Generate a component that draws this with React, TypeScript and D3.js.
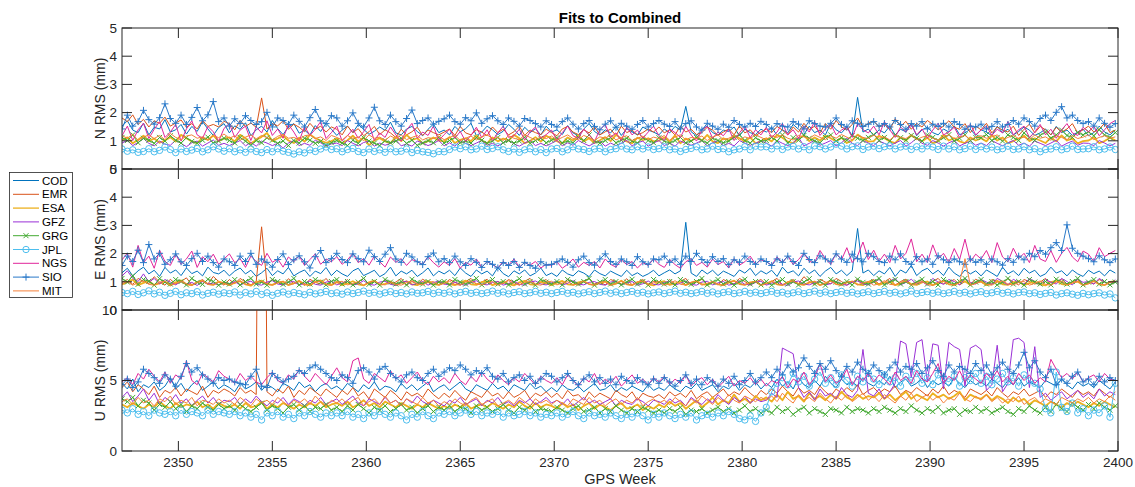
import * as d3 from 'd3';

// analysis centres, in plot order
const centres = ['COD', 'EMR', 'ESA', 'GFZ', 'GRG', 'JPL', 'NGS', 'SIO', 'MIT'];
const colors = ['#0072BD', '#D95319', '#EDB120', '#9A30D6', '#44AA33', '#4DBEEE', '#E0259A', '#2878C8', '#F5813A'];
const markers = ['', '', '', '', 'x', 'o', '', '+', ''];
const lineWidths = [1, 1, 1.8, 1, 1, 1, 1, 1, 1];

// samples every 2 days from GPS week 2347
const firstWeek = 2347;
const stepWeeks = 2 / 7;
const weekTicks = [2350, 2355, 2360, 2365, 2370, 2375, 2380, 2385, 2390, 2395, 2400];

// North RMS, 1/100 mm
const nCOD = [152,171,138,129,163,121,148,142,175,131,139,158,124,151,133,168,142,119,147,161,
  128,153,141,164,118,139,152,131,172,143,122,149,161,127,138,121,154,133,162,141,
  119,138,152,129,158,141,123,134,149,137,166,128,121,142,151,133,118,141,159,129,
  138,121,151,132,143,162,118,131,152,139,122,134,158,141,119,148,129,143,121,152,
  131,139,122,154,128,118,142,161,133,121,139,128,151,119,143,132,121,149,138,131,
  121,142,128,151,139,222,132,118,141,152,129,121,138,133,149,118,142,129,122,141,
  131,148,119,139,128,158,141,122,152,129,138,121,162,139,128,149,118,254,131,142,
  119,139,128,152,121,141,132,161,118,139,148,129,121,142,131,153,122,128,141,119,
  139,131,118,152,129,141,121,133,149,138,119,128,142,121,151,129,138,119,131,141,
  118,129,152,131,121,138];
const nEMR = [181,168,192,158,176,149,171,162,184,152,163,174,148,161,142,172,151,158,149,169,
  161,139,172,151,163,148,252,142,161,153,171,141,159,148,132,162,141,152,131,149,
  141,121,152,129,143,118,132,151,122,139,128,112,141,121,132,148,119,138,129,121,
  131,142,119,151,128,121,139,131,118,149,129,141,121,132,152,119,138,129,122,141,
  129,118,142,151,131,122,139,128,149,121,132,141,118,152,129,138,121,129,142,131,
  149,128,139,121,152,131,141,122,129,148,138,119,131,142,121,153,128,139,118,131,
  142,129,151,138,121,149,131,162,139,152,128,161,141,172,149,138,158,181,149,162,
  171,148,159,139,178,151,169,141,162,149,172,158,139,152,171,148,141,161,129,152,
  139,162,128,149,138,131,152,119,141,159,128,151,139,121,148,131,142,161,128,139,
  152,131,141,162,129,138];
const nESA = [102,112,91,104,118,99,108,93,101,113,97,121,109,98,92,111,103,119,99,108,
  112,98,121,109,91,103,114,128,99,108,118,101,92,111,97,122,109,101,93,99,
  108,91,102,118,97,112,84,101,109,98,92,113,99,121,103,109,91,99,112,101,
  98,113,92,103,109,99,119,101,91,112,98,108,101,121,109,92,99,113,97,118,
  108,99,91,112,101,119,98,109,92,102,113,99,121,108,98,91,111,102,109,98,
  101,112,97,119,91,108,99,112,101,121,98,92,109,101,118,109,98,112,91,99,
  109,98,121,111,97,92,108,119,99,112,101,118,109,98,111,92,101,122,108,97,
  99,118,109,98,92,112,101,119,108,98,111,91,99,121,101,109,98,92,112,101,
  109,98,121,101,112,91,99,108,118,99,109,101,92,112,98,119,101,108,91,99,
  101,112,92,99,111,102];
const nGFZ = [92,101,83,94,108,91,82,99,88,84,102,91,79,93,99,81,92,103,84,91,
  83,92,101,82,94,81,99,92,83,91,74,92,101,83,91,84,102,93,81,89,
  92,83,101,91,82,94,99,81,92,84,91,103,82,89,81,99,92,83,91,101,
  82,93,81,99,91,83,92,101,84,91,82,93,102,89,81,92,101,83,91,82,
  91,102,82,93,84,101,91,82,92,99,81,92,83,91,102,82,93,99,81,92,
  101,83,92,81,99,91,84,92,101,82,93,101,83,91,82,101,92,84,91,99,
  92,81,101,91,83,92,112,82,91,102,84,92,101,82,93,109,91,83,101,92,
  83,99,91,82,92,101,81,93,109,91,84,101,92,81,93,101,82,91,99,84,
  92,83,101,91,82,93,101,84,92,81,99,91,83,92,102,81,91,99,84,92,
  91,83,101,92,82,91];
const nGRG = [112,101,121,93,109,102,91,112,99,118,102,92,111,98,91,102,113,92,99,109,
  101,92,112,99,84,101,93,111,102,91,99,83,101,92,109,102,91,98,84,93,
  101,92,83,102,91,111,99,92,83,101,93,99,109,91,102,84,92,101,93,112,
  92,101,112,93,99,92,111,102,91,99,112,93,101,92,99,112,91,101,109,93,
  102,111,92,99,93,112,101,121,99,92,101,111,93,102,109,99,92,111,101,93,
  111,99,92,101,112,93,99,112,101,92,109,101,93,99,112,121,101,92,111,99,
  101,112,99,121,92,111,102,119,109,99,93,112,121,99,111,102,119,109,101,112,
  122,101,112,99,121,111,102,119,109,99,121,112,101,111,122,99,109,121,101,112,
  111,122,101,112,99,121,112,101,128,111,102,119,131,109,121,138,119,112,129,121,
  132,118,139,121,112,129];
const nJPL = [71,63,68,59,62,72,61,66,78,69,58,71,62,67,73,61,68,79,71,63,
  72,61,68,59,71,62,58,69,61,72,63,59,53,61,57,68,62,71,78,69,
  72,61,69,73,62,58,71,62,68,59,72,61,63,71,58,66,61,59,54,62,
  61,69,78,72,79,68,71,81,69,73,79,68,62,71,59,68,72,61,69,58,
  71,73,61,68,79,71,69,62,71,73,61,69,72,81,71,68,79,71,78,69,
  72,79,68,71,62,69,73,79,68,71,81,69,72,61,68,71,79,68,81,78,
  79,71,82,69,78,81,71,79,68,82,79,71,78,88,81,71,79,82,69,78,
  81,72,79,82,71,78,81,69,79,71,82,78,69,81,71,79,68,72,81,69,
  79,71,78,68,72,81,69,71,79,68,72,61,69,71,79,68,72,81,69,71,
  72,79,68,71,78,69];
const nNGS = [118,152,101,139,162,108,141,168,112,131,158,99,142,171,121,109,151,132,98,144,
  161,112,138,152,101,149,128,171,119,142,109,158,131,99,151,119,141,168,108,129,
  152,99,118,141,109,132,158,101,128,112,149,121,99,138,162,109,131,119,152,101,
  122,141,109,133,98,119,148,111,139,101,128,152,112,118,141,102,131,149,109,122,
  138,101,129,152,118,109,142,121,98,139,158,112,128,101,149,121,138,109,131,152,
  118,101,142,129,112,151,121,99,138,152,109,131,118,142,101,128,152,111,139,121,
  148,112,131,162,121,139,109,152,131,168,119,142,159,121,138,149,112,161,139,128,
  152,121,168,139,112,149,131,158,121,142,109,138,162,121,131,148,112,139,159,121,
  138,152,119,141,128,168,121,139,152,112,131,158,121,141,109,139,161,128,119,148,
  131,152,118,139,161,172];
const nSIO = [142,191,152,168,208,175,159,182,231,179,162,191,158,183,218,171,192,239,168,181,
  152,178,161,189,172,158,168,201,149,181,172,158,191,169,149,182,211,171,161,189,
  181,152,171,199,162,149,181,219,171,158,191,168,152,179,209,161,172,181,159,169,
  178,191,168,159,182,171,199,162,178,189,171,158,181,169,152,179,172,161,149,171,
  158,149,168,181,159,142,161,172,151,139,159,171,148,162,152,141,158,172,149,161,
  172,159,151,168,142,161,171,149,138,162,152,141,159,148,172,158,149,162,151,169,
  158,142,161,152,149,168,159,142,171,161,152,149,162,181,158,149,171,162,151,159,
  168,152,161,149,172,158,141,161,152,168,142,159,151,162,149,168,158,141,152,149,
  159,142,151,168,149,158,172,159,181,168,152,179,191,172,201,221,181,191,172,161,
  168,152,181,162,148,161];
const nMIT = [118,109,124,101,113,121,108,119,104,126,112,103,117,121,109,114,102,119,111,124,
  109,118,102,113,121,107,119,111,102,116,123,109,112,104,118,121,108,114,101,119,
  112,103,119,108,114,101,121,109,113,102,117,108,121,104,112,119,103,111,108,116,
  104,112,119,101,109,117,103,114,121,108,112,101,118,109,104,121,112,103,114,108,
  117,103,112,121,108,104,119,111,102,114,109,121,103,112,118,101,109,116,104,113,
  108,119,102,114,121,103,112,108,117,101,113,121,104,109,118,102,114,108,121,112,
  104,118,112,121,109,103,119,114,108,121,112,104,118,109,122,113,104,119,112,108,
  121,109,114,103,119,112,108,121,104,113,118,109,102,114,121,108,112,119,104,113,
  118,109,114,121,103,112,119,108,113,104,121,109,114,102,118,112,104,119,108,113,
  121,104,112,118,109,114];

// East RMS, 1/100 mm
const eCOD = [132,148,121,139,152,128,141,119,151,131,142,122,149,129,138,121,152,133,128,141,
  121,138,149,128,141,119,132,148,122,139,128,151,121,133,142,119,138,129,151,122,
  141,128,119,139,148,122,131,141,118,129,152,121,138,128,141,119,132,149,121,138,
  128,141,122,149,131,119,142,128,138,121,151,129,118,139,128,142,121,131,149,122,
  131,119,142,128,121,139,131,118,142,129,121,138,128,119,141,122,132,119,128,141,
  121,132,142,128,139,311,131,119,142,128,141,122,138,129,119,142,131,148,122,139,
  128,141,119,152,131,139,121,148,129,142,119,138,151,128,141,122,139,289,131,142,
  122,139,128,151,119,142,131,158,122,139,148,128,141,122,152,131,119,142,128,139,
  121,142,131,119,152,128,139,122,148,131,141,119,128,152,131,139,121,142,128,119,
  141,129,138,121,142,131];
const eEMR = [98,108,91,112,101,93,118,99,88,109,92,101,114,89,98,108,92,119,101,88,
  108,93,112,99,89,101,295,92,108,99,88,111,93,101,87,109,98,92,112,89,
  101,92,108,88,99,112,91,101,89,108,93,99,112,88,101,92,109,98,89,101,
  92,108,99,88,101,112,92,99,109,89,101,93,108,99,88,102,112,91,99,108,
  89,101,92,109,98,88,101,112,92,99,89,108,101,92,111,89,99,108,92,101,
  99,89,108,92,101,112,88,99,109,92,101,89,108,99,92,112,101,89,99,108,
  92,101,112,89,99,108,92,118,101,89,109,99,92,112,101,88,99,109,92,101,
  108,92,99,112,88,101,109,92,99,108,89,101,112,92,99,108,89,101,92,109,
  99,88,108,101,92,112,99,89,108,101,92,99,112,88,101,109,92,99,108,89,
  101,92,108,99,89,101];
const eESA = [91,99,108,88,96,102,89,94,101,87,98,105,91,88,99,103,92,89,101,95,
  88,97,102,91,86,99,104,92,89,98,101,88,95,103,91,87,99,105,92,89,
  99,88,94,102,91,87,98,104,89,93,101,88,96,102,91,88,97,103,92,89,
  101,92,88,97,104,91,89,99,102,88,94,101,92,87,98,103,91,89,99,95,
  88,97,103,91,89,98,102,92,88,96,101,89,93,104,91,88,99,102,91,87,
  98,102,89,94,101,88,97,103,92,89,99,91,88,97,104,92,89,98,101,88,
  94,102,91,88,99,103,92,89,97,101,88,95,104,92,89,98,101,91,88,99,
  102,89,96,101,88,93,103,91,89,98,101,88,95,103,91,88,99,102,89,96,
  101,88,93,104,91,89,98,102,88,95,101,91,87,99,103,92,89,97,101,88,
  94,102,91,88,99,103];
const eGFZ = [121,139,112,101,128,99,112,92,108,99,89,102,91,98,87,101,92,96,88,99,
  92,101,88,97,102,91,88,99,104,92,89,98,101,88,95,103,91,88,99,102,
  89,96,101,88,93,104,91,88,99,102,91,87,98,102,89,94,101,88,97,103,
  92,89,99,91,88,97,104,92,89,98,101,88,94,102,91,88,99,103,92,89,
  97,101,88,95,104,92,89,98,101,91,88,99,102,89,96,101,88,93,103,91,
  89,98,101,88,95,103,91,88,99,102,89,96,101,88,93,104,91,89,98,102,
  88,95,101,91,87,99,103,92,89,97,101,88,94,102,91,88,99,103,92,89,
  99,108,91,102,112,89,98,109,92,101,88,112,99,91,108,101,89,112,98,92,
  108,99,91,112,101,89,109,98,92,111,101,89,108,99,92,112,101,89,109,98,
  101,92,112,99,89,108];
const eGRG = [112,99,121,91,108,102,88,111,99,92,108,101,89,112,98,91,109,101,88,99,
  92,108,89,101,112,92,99,88,108,101,91,99,112,89,101,92,108,99,89,101,
  108,92,101,89,99,112,91,101,88,108,99,92,101,89,109,98,92,101,88,99,
  101,89,108,99,92,101,112,89,99,108,92,101,89,99,111,92,101,88,108,99,
  92,101,89,108,99,92,101,112,88,99,108,92,101,89,99,109,92,101,88,108,
  99,92,101,89,108,99,91,101,112,89,99,108,92,101,88,99,109,92,101,89,
  101,88,99,108,92,101,89,99,111,92,101,88,108,99,92,101,89,109,98,92,
  101,112,89,99,108,92,101,88,99,109,92,101,89,108,99,92,101,112,89,99,
  108,92,101,89,99,112,92,101,88,108,99,92,101,89,109,99,92,101,112,89,
  99,108,92,101,89,99];
const eJPL = [62,58,66,55,61,68,57,63,52,59,66,54,61,58,65,53,59,63,56,61,
  58,64,53,62,57,66,55,61,52,59,64,56,62,58,54,63,57,61,66,58,
  61,56,64,58,62,67,59,63,56,61,65,58,62,57,64,59,61,66,58,63,
  59,64,57,62,66,59,63,58,61,67,59,64,57,62,65,58,61,66,59,63,
  58,62,66,59,63,57,61,65,58,62,67,59,64,58,62,66,59,63,57,61,
  64,58,62,67,59,63,58,61,66,59,64,57,62,65,58,61,66,59,63,58,
  62,66,59,63,57,61,65,58,62,67,59,64,58,62,66,59,63,57,61,65,
  58,62,66,59,63,57,61,67,58,62,65,59,64,58,61,66,59,63,57,62,
  65,58,61,66,59,63,57,62,64,58,61,55,59,62,53,58,61,56,52,59,
  54,58,61,53,57,43];
const eNGS = [178,201,152,229,168,191,148,212,172,158,198,162,181,209,151,189,171,198,162,181,
  199,168,182,151,191,172,158,201,169,181,152,188,171,192,158,179,199,162,181,171,
  189,162,178,201,168,182,159,191,171,152,188,169,182,158,179,171,162,189,168,152,
  171,158,182,148,169,159,181,152,171,161,149,172,158,181,152,168,159,172,149,162,
  158,171,148,162,181,152,169,158,172,149,181,162,152,178,161,172,149,168,158,181,
  162,151,179,161,148,171,182,158,169,152,181,161,172,149,182,159,171,191,162,178,
  171,159,188,168,192,161,179,201,172,168,211,182,162,201,178,221,168,192,241,179,
  212,172,198,168,229,181,201,252,171,198,168,231,182,201,169,218,179,251,172,198,
  181,211,168,239,188,171,219,182,201,168,229,181,172,211,169,201,222,188,171,209,
  198,172,221,189,201,211];
const eSIO = [158,191,172,212,168,232,181,201,162,178,199,171,158,182,201,172,191,168,152,181,
  171,158,191,172,201,162,181,169,152,179,199,161,178,192,171,149,189,211,168,182,
  201,179,168,199,182,171,212,189,172,198,221,181,169,201,188,171,161,189,202,171,
  182,168,191,171,158,182,169,151,172,162,149,168,158,172,151,169,158,148,171,159,
  162,171,181,169,152,178,191,168,159,181,199,172,162,181,171,158,189,171,162,181,
  178,191,169,181,162,191,172,201,179,168,189,172,182,161,178,169,191,172,162,181,
  172,158,181,169,191,172,158,201,179,168,192,181,171,199,181,169,198,182,171,201,
  189,172,168,191,178,199,172,162,189,171,181,162,192,178,168,181,171,162,181,169,
  178,162,181,171,159,182,169,191,178,201,189,211,198,221,239,211,302,219,201,191,
  182,171,192,178,168,181];
const eMIT = [92,101,88,97,104,91,88,99,102,88,94,101,92,87,98,103,91,89,99,95,
  88,97,103,91,89,98,102,92,88,96,101,89,93,104,91,88,99,102,91,87,
  98,102,89,94,101,88,97,103,92,89,99,91,88,97,104,92,89,98,101,88,
  94,102,91,88,99,103,92,89,97,101,88,95,104,92,89,98,101,91,88,99,
  102,89,96,101,88,93,103,91,89,98,101,88,95,103,91,88,99,102,89,96,
  101,88,93,104,91,89,98,102,88,95,101,91,87,99,103,92,89,97,101,88,
  94,102,91,88,99,103,92,89,98,101,88,95,103,91,88,99,102,89,96,101,
  88,93,104,91,89,98,102,88,95,101,91,87,99,103,92,89,97,182,88,94,
  102,91,88,99,103,92,89,98,101,88,95,103,91,88,99,102,89,96,101,88,
  93,104,91,89,98,102];

// Up RMS, 1/10 mm
const uCOD = [48,44,51,42,47,45,49,43,46,52,44,48,42,47,50,43,46,49,44,47,
  45,42,48,44,46,49,43,47,45,42,48,46,43,49,45,47,42,46,48,44,
  46,43,48,45,42,47,44,49,43,46,45,42,48,44,47,43,46,49,42,45,
  47,43,46,49,44,42,47,45,43,48,44,46,42,47,45,43,48,44,46,42,
  45,42,47,44,43,46,42,45,48,43,44,47,42,45,43,46,44,42,47,43,
  45,43,47,44,42,46,44,48,43,45,47,42,46,44,48,43,47,45,49,44,
  48,45,51,46,49,44,52,47,45,50,46,53,48,45,51,47,49,46,52,48,
  46,50,47,53,45,49,51,46,48,52,45,50,47,49,46,52,48,45,50,47,
  49,46,51,48,45,50,47,52,46,49,47,45,50,48,46,51,47,44,49,46,
  48,45,50,47,44,49];
const uEMR = [45,49,42,47,44,40,46,38,43,41,45,39,44,42,40,46,38,43,41,44,
  42,39,45,41,43,40,600,42,39,44,41,46,38,43,40,45,42,39,44,41,
  38,43,40,45,39,42,37,44,41,38,43,40,36,42,39,41,38,44,40,37,
  41,38,43,39,36,42,40,38,43,39,41,37,42,38,40,43,37,41,39,42,
  38,41,37,43,39,40,36,42,38,41,39,37,43,40,38,42,36,41,39,38,
  40,37,42,39,41,38,43,37,40,42,38,41,44,39,42,40,45,41,38,43,
  40,44,41,46,42,39,45,41,43,40,46,42,39,44,41,45,42,47,40,43,
  45,41,44,42,46,40,43,41,45,42,39,44,41,46,40,43,41,38,44,42,
  40,43,39,45,41,38,42,40,44,39,41,43,38,42,40,44,41,38,43,40,
  42,39,44,41,38,42];
const uESA = [33,31,34,32,30,33,31,35,32,30,34,31,33,32,35,31,33,30,34,32,
  31,33,30,34,31,32,35,30,33,31,34,32,30,33,31,34,32,35,31,33,
  34,32,35,31,33,36,32,34,31,35,33,31,34,32,30,33,31,34,32,30,
  32,30,33,31,34,30,32,33,31,34,32,30,33,31,35,32,30,34,31,33,
  32,30,34,31,33,29,32,34,30,33,31,29,32,34,30,31,33,29,32,30,
  33,31,35,32,34,30,33,36,31,34,38,33,36,34,40,35,37,34,39,36,
  38,35,40,36,42,37,39,35,41,37,39,36,40,37,42,38,36,40,37,39,
  38,41,37,40,36,39,42,37,40,38,36,41,38,40,37,39,42,36,40,38,
  37,40,36,39,37,34,38,35,37,33,36,34,32,35,33,31,34,32,35,33,
  31,34,32,35,33,31];
const uGFZ = [38,42,35,39,44,36,41,33,38,35,40,34,37,32,36,39,34,38,33,36,
  35,38,33,37,34,39,35,32,36,34,38,33,37,35,32,36,34,38,33,35,
  37,33,36,39,34,32,37,35,33,38,34,36,32,37,34,39,35,33,36,34,
  32,36,34,38,33,35,37,32,36,34,38,33,35,32,36,34,37,33,35,38,
  34,36,33,37,32,35,38,34,36,33,35,37,32,36,34,33,37,35,32,36,
  35,33,37,34,36,32,38,35,33,37,34,40,36,33,38,35,39,34,37,35,
  36,41,38,73,71,69,45,38,42,36,44,39,41,37,45,40,38,43,72,41,
  39,44,37,42,48,78,76,52,77,79,49,76,75,44,77,74,72,46,73,75,
  72,43,47,75,42,48,79,80,77,45,74,38,41,36,39,42,37,40,43,38,
  41,37,44,39,42,40];
const uGRG = [37,35,38,32,36,34,29,33,31,35,30,33,28,32,30,34,31,29,33,30,
  32,29,33,30,28,31,34,29,32,30,27,31,33,29,32,28,31,30,33,29,
  31,28,32,29,33,30,27,31,29,32,28,30,33,29,31,27,30,32,28,31,
  29,32,28,31,30,27,32,29,31,28,30,33,29,27,31,29,32,28,30,29,
  28,31,29,27,30,32,28,29,31,27,30,28,32,29,27,30,28,31,29,27,
  29,27,30,28,31,26,29,28,30,27,29,31,28,30,27,29,32,28,30,27,
  29,27,31,28,30,26,29,31,27,30,28,26,30,29,27,31,28,30,29,27,
  30,28,31,29,27,30,28,32,29,27,30,28,31,27,29,30,26,29,28,31,
  28,30,27,29,31,28,26,30,28,32,29,27,31,28,33,30,28,34,31,29,
  33,30,34,31,29,32];
const uJPL = [29,27,30,26,28,25,29,27,26,28,25,29,26,28,27,25,29,26,28,27,
  26,28,25,27,24,26,22,27,25,28,24,26,23,27,25,28,26,24,27,25,
  27,25,28,24,26,23,27,25,28,26,24,27,25,22,26,24,28,25,23,27,
  26,28,25,27,29,26,28,25,27,26,28,24,27,25,26,28,25,27,24,26,
  25,27,24,26,28,25,23,27,25,26,24,27,25,23,26,24,27,25,22,26,
  24,27,25,23,26,24,27,22,25,26,24,27,25,28,26,23,22,25,21,27,
  31,42,48,52,47,55,49,53,46,51,56,48,52,47,54,50,46,53,49,55,
  51,47,54,49,52,46,53,50,55,48,52,47,54,51,49,53,46,52,50,55,
  48,53,47,51,55,49,52,46,54,50,48,44,30,27,56,31,28,34,27,30,
  25,29,27,32,24,48];
const uNGS = [49,52,47,55,51,58,53,49,56,48,54,51,64,50,47,55,52,49,57,53,
  51,48,55,50,53,49,47,52,56,50,48,54,51,58,53,49,55,51,47,53,
  59,52,49,64,66,51,48,55,52,49,57,51,54,48,52,56,50,47,53,49,
  52,48,55,50,47,53,49,56,51,48,54,50,47,52,49,55,51,47,53,50,
  48,52,47,54,50,46,52,49,55,47,51,48,53,46,50,54,48,51,47,52,
  49,53,47,51,48,54,46,50,52,47,51,45,49,53,46,50,48,52,47,51,
  46,50,48,53,45,51,49,56,47,52,62,49,54,48,51,58,47,53,50,55,
  49,54,51,47,56,50,53,48,57,51,49,55,62,48,53,50,57,49,54,51,
  48,55,51,57,49,53,47,55,50,54,48,52,49,65,58,52,55,51,56,49,
  52,54,49,55,51,50];
const uSIO = [47,51,45,49,58,55,52,48,54,51,46,53,62,56,59,54,51,48,52,50,
  51,49,48,47,53,58,46,45,55,52,49,51,53,57,55,59,61,58,55,52,
  50,54,52,48,57,59,56,51,58,60,55,52,49,54,56,52,50,55,58,53,
  56,59,57,61,58,54,57,55,59,53,51,55,49,52,54,50,53,48,51,55,
  53,49,52,55,50,47,51,54,49,52,48,51,47,53,50,48,52,49,47,51,
  48,52,49,46,50,54,48,51,47,52,49,46,51,48,53,47,50,55,49,52,
  56,52,58,54,61,56,59,66,60,55,62,58,64,57,53,60,56,63,58,55,
  61,57,54,59,63,56,60,58,62,55,59,64,57,53,61,56,60,58,55,62,
  57,61,54,59,63,58,55,61,70,59,64,56,52,58,47,51,48,53,56,49,
  51,47,53,49,52,50];
const uMIT = [35,37,33,38,34,36,32,37,35,39,33,36,34,38,32,36,35,33,37,34,
  36,33,38,35,32,37,34,36,33,38,35,32,36,34,37,33,39,35,32,36,
  34,37,33,36,38,32,35,37,33,39,34,36,32,37,35,33,38,34,36,32,
  35,33,37,34,32,36,38,33,35,37,32,34,36,33,38,35,32,37,34,36,
  33,36,34,32,37,35,33,38,34,36,32,35,37,33,36,34,38,32,35,37,
  34,36,33,38,35,32,37,34,39,36,33,38,35,40,36,34,39,37,35,38,
  36,39,35,41,37,34,40,36,38,35,41,37,34,39,36,40,35,38,41,36,
  39,35,40,37,34,39,36,41,35,38,40,36,39,34,38,36,41,37,35,39,
  36,40,35,38,34,37,35,39,33,36,38,34,37,35,33,38,36,34,37,35,
  38,34,37,35,39,36];

const panels = [
  { label: 'N RMS (mm)', top: 28, yMax: 5, yTicks: [0, 1, 2, 3, 4, 5], unit: 100,
    series: [nCOD, nEMR, nESA, nGFZ, nGRG, nJPL, nNGS, nSIO, nMIT] },
  { label: 'E RMS (mm)', top: 169, yMax: 5, yTicks: [0, 1, 2, 3, 4, 5], unit: 100,
    series: [eCOD, eEMR, eESA, eGFZ, eGRG, eJPL, eNGS, eSIO, eMIT] },
  { label: 'U RMS (mm)', top: 310, yMax: 10, yTicks: [0, 5, 10], unit: 10,
    series: [uCOD, uEMR, uESA, uGFZ, uGRG, uJPL, uNGS, uSIO, uMIT] },
];

const W = 1135;
const H = 487;
const left = 122;
const right = 1118;
const panelH = 141;
const tickLen = 10;
const axisColor = '#262626';
const font = '"Liberation Sans", Arial, Helvetica, sans-serif';

const x = d3.scaleLinear().domain([2347, 2400]).range([left, right]);

function markerPath(kind: string, pts: [number, number][]) {
  let d = '';
  pts.forEach(([px, py]) => {
    if (kind === '+') d += `M${px - 3.5},${py}h7M${px},${py - 3.5}v7`;
    else if (kind === 'x') d += `M${px - 2.5},${py - 2.5}l5,5M${px - 2.5},${py + 2.5}l5,-5`;
    else if (kind === 'o') d += `M${px - 3.2},${py}a3.2,3.2 0 1,0 6.4,0a3.2,3.2 0 1,0 -6.4,0`;
  });
  return d;
}

function Panel({ p, i }: { p: (typeof panels)[number]; i: number }) {
  const y = d3.scaleLinear().domain([0, p.yMax]).range([p.top + panelH, p.top]);
  const line = d3.line<number>()
    .x((_, k) => x(firstWeek + k * stepWeeks))
    .y((v) => y(v / p.unit));
  const clipId = `clip${i}`;
  return (
    <g>
      <defs>
        <clipPath id={clipId}>
          <rect x={left} y={p.top} width={right - left} height={panelH} />
        </clipPath>
      </defs>
      <g clipPath={`url(#${clipId})`}>
        {p.series.map((vals, s) => (
          <g key={centres[s]}>
            <path d={line(vals) || ''} fill="none" stroke={colors[s]} strokeWidth={lineWidths[s]} strokeLinejoin="round" />
            {markers[s] && (
              <path
                d={markerPath(markers[s], vals.map((v, k) => [x(firstWeek + k * stepWeeks), y(v / p.unit)]))}
                fill="none"
                stroke={colors[s]}
                strokeWidth={1}
              />
            )}
          </g>
        ))}
      </g>
      <rect x={left} y={p.top} width={right - left} height={panelH} fill="none" stroke={axisColor} strokeWidth={1} />
      {weekTicks.map((t) => (
        <g key={t} stroke={axisColor} strokeWidth={1}>
          <line x1={x(t)} x2={x(t)} y1={p.top + panelH} y2={p.top + panelH - tickLen} />
          <line x1={x(t)} x2={x(t)} y1={p.top} y2={p.top + tickLen} />
        </g>
      ))}
      {p.yTicks.map((t) => (
        <g key={t}>
          <line x1={left} x2={left + tickLen} y1={y(t)} y2={y(t)} stroke={axisColor} />
          <line x1={right} x2={right - tickLen} y1={y(t)} y2={y(t)} stroke={axisColor} />
          <text x={left - 5} y={y(t)} dy="0.36em" textAnchor="end" fontSize={13.5} fill={axisColor}>
            {t}
          </text>
        </g>
      ))}
      <text
        transform={`translate(105,${p.top + panelH / 2}) rotate(-90)`}
        textAnchor="middle"
        fontSize={14}
        fill={axisColor}
      >
        {p.label}
      </text>
    </g>
  );
}

export default function App() {
  const bottom = panels[2].top + panelH;
  return (
    <svg width={W} height={H} style={{ position: 'absolute', left: 0, top: 0, background: '#fff' }} fontFamily={font}>
      <rect width={W} height={H} fill="#fff" />
      {panels.map((p, i) => (
        <Panel key={p.label} p={p} i={i} />
      ))}
      {weekTicks.map((t) => (
        <text key={t} x={x(t)} y={bottom + 16} textAnchor="middle" fontSize={13.5} fill={axisColor}>
          {t}
        </text>
      ))}
      <text x={(left + right) / 2} y={486 - 2} textAnchor="middle" fontSize={14.5} fill={axisColor}>
        GPS Week
      </text>
      <text x={(left + right) / 2} y={23} textAnchor="middle" fontSize={15} fontWeight="bold" fill="#000">
        Fits to Combined
      </text>
      <g>
        <rect x={9.5} y={172.5} width={63} height={125} fill="#fff" stroke={axisColor} strokeWidth={0.8} />
        {centres.map((c, s) => {
          const ly = 180.5 + s * 13.8;
          return (
            <g key={c}>
              <line x1={13} x2={39} y1={ly} y2={ly} stroke={colors[s]} strokeWidth={lineWidths[s] > 1 ? 1.3 : 1} />
              {markers[s] && (
                <path d={markerPath(markers[s], [[26, ly]])} fill="none" stroke={colors[s]} strokeWidth={1} />
              )}
              <text x={42} y={ly} dy="0.36em" fontSize={11.5} fill="#000">
                {c}
              </text>
            </g>
          );
        })}
      </g>
    </svg>
  );
}
